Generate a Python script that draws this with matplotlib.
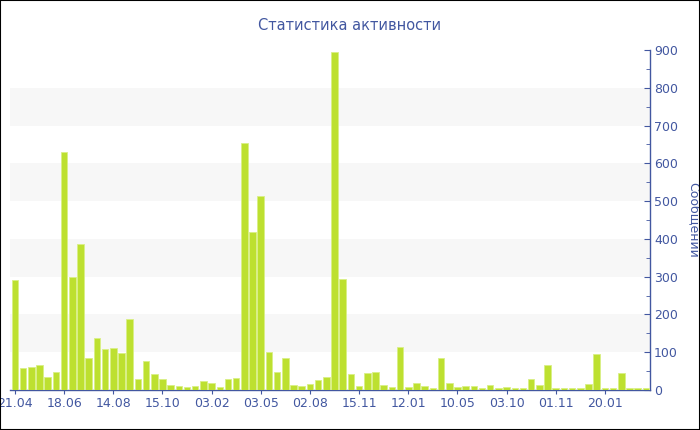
import numpy as np
import matplotlib.pyplot as plt
from matplotlib.patches import Rectangle
from matplotlib.ticker import MultipleLocator

# ---------- Data (messages per period) ----------
messages = [
    290, 58, 62, 65, 35, 48, 629, 299, 387, 84,
    138, 109, 111, 98, 188, 28, 78, 42, 28, 12,
    10, 7, 10, 25, 18, 7, 28, 32, 653, 418,
    514, 100, 48, 84, 12, 10, 16, 27, 35, 895,
    293, 43, 10, 46, 48, 12, 8, 114, 9, 18,
    10, 5, 84, 18, 8, 11, 10, 5, 12, 4,
    7, 5, 5, 28, 12, 66, 4, 4, 4, 4,
    17, 96, 4, 4, 45, 4, 6, 4,
]
tick_labels = ['21.04', '18.06', '14.08', '15.10', '03.02', '03.05', '02.08',
               '15.11', '12.01', '10.05', '03.10', '01.11', '20.01']
tick_step = 6

title = 'Статистика активности'
ylabel = 'Сообщений'

BLUE = '#4257a0'
BAR = '#bde030'

# ---------- Plot ----------
fig = plt.figure(figsize=(7.0, 4.3), dpi=100)
ax = fig.add_axes([10 / 700, 40 / 430, 640 / 700, 340 / 430])

x = np.arange(len(messages))
ax.bar(x, messages, width=0.8, color=BAR, edgecolor='#d9ef86',
       linewidth=0.6, zorder=3)

# alternating background bands
for lo in range(100, 900, 200):
    ax.axhspan(lo, lo + 100, color='#f7f7f7', zorder=0, lw=0)

ax.set_xlim(-0.6, len(messages) - 0.5)
ax.set_ylim(0, 900)

ax.set_xticks(x[::tick_step][:len(tick_labels)])
ax.set_xticklabels(tick_labels)

ax.yaxis.tick_right()
ax.yaxis.set_label_position('right')
ax.yaxis.set_major_locator(MultipleLocator(100))
ax.yaxis.set_minor_locator(MultipleLocator(50))

for side in ['top', 'left']:
    ax.spines[side].set_visible(False)
for side in ['bottom', 'right']:
    ax.spines[side].set_color(BLUE)
    ax.spines[side].set_linewidth(1.0)

ax.tick_params(axis='x', colors=BLUE, labelsize=9, length=3, pad=2)
ax.tick_params(axis='y', which='major', colors=BLUE, labelsize=9,
               direction='in', length=4, pad=3)
ax.tick_params(axis='y', which='minor', colors=BLUE, direction='in', length=3)

ax.set_ylabel(ylabel, color=BLUE, fontsize=9, rotation=270, labelpad=6,
              va='bottom')
fig.text(0.5, 1 - 25 / 430, title, color=BLUE, fontsize=10.5,
         ha='center', va='center')

# figure border
fig.patches.append(Rectangle((0, 0), 1, 1, transform=fig.transFigure,
                             fill=False, edgecolor='black', linewidth=1.5))

fig.savefig('out.png', dpi=100)
